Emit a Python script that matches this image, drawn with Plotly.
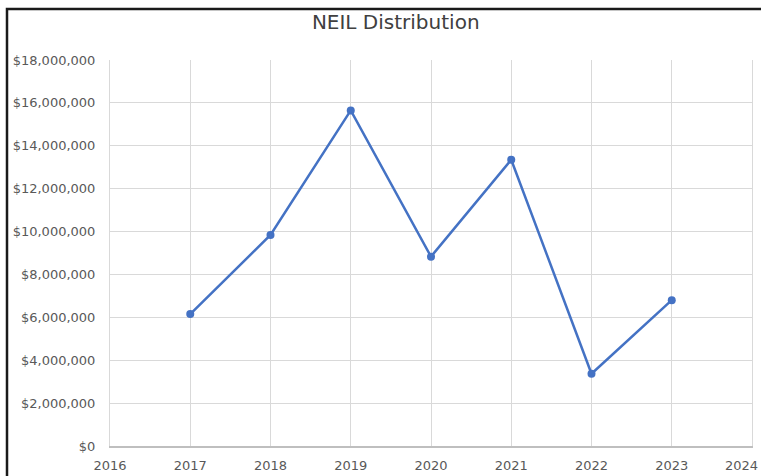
import plotly.graph_objects as go

years = [2017, 2018, 2019, 2020, 2021, 2022, 2023]
distribution = [6150000, 9840000, 15650000, 8830000, 13350000, 3370000, 6800000]
x_ticks = [2016, 2017, 2018, 2019, 2020, 2021, 2022, 2023, 2024]
y_ticks = [0, 2000000, 4000000, 6000000, 8000000, 10000000, 12000000, 14000000, 16000000, 18000000]
y_labels = ["$0", "$2,000,000", "$4,000,000", "$6,000,000", "$8,000,000", "$10,000,000",
            "$12,000,000", "$14,000,000", "$16,000,000", "$18,000,000"]

W, H = 761, 476
L, R, T, B = 110, 9, 60, 30

fig = go.Figure()
fig.add_trace(go.Scatter(
    x=years, y=distribution, mode="lines+markers",
    line=dict(color="#4472C4", width=2.5),
    marker=dict(color="#4472C4", size=8),
    showlegend=False, cliponaxis=False,
))

grid = "#d9d9d9"
txt = "#595959"
# last tick label is placed as an annotation so it stays inside the page
x_text = [str(v) for v in x_ticks[:-1]] + [""]
fig.update_layout(
    width=W, height=H,
    margin=dict(l=L, r=R, t=T, b=B),
    paper_bgcolor="white", plot_bgcolor="white",
    title=dict(text="NEIL Distribution", x=0.52, xanchor="center", y=1 - 22 / H, yanchor="middle",
               font=dict(family="DejaVu Sans", size=20, color="#404040")),
    font=dict(family="DejaVu Sans", size=13, color=txt),
    xaxis=dict(range=[2016, 2024], tickvals=x_ticks, ticktext=x_text,
               showgrid=True, gridcolor=grid, gridwidth=1, zeroline=False,
               showline=True, linecolor="#bfbfbf", linewidth=1.5,
               ticks="outside", ticklen=7, tickcolor="rgba(0,0,0,0)",
               ticklabeloverflow="allow", automargin=False,
               tickfont=dict(family="DejaVu Sans", size=13, color=txt)),
    yaxis=dict(range=[0, 18000000], tickvals=y_ticks, ticktext=y_labels,
               showgrid=True, gridcolor=grid, gridwidth=1, zeroline=False,
               showline=True, linecolor=grid, mirror=True,
               ticks="outside", ticklen=11, tickcolor="rgba(0,0,0,0)",
               ticklabeloverflow="allow", automargin=False,
               tickfont=dict(family="DejaVu Sans", size=13, color=txt)),
)

pw, ph = W - L - R, H - T - B
def px(x):
    return (x - L) / pw
def py(y):
    return (H - B - y) / ph

fig.add_annotation(text=str(x_ticks[-1]), xref="paper", yref="paper",
                   x=px(W - 1), y=py(H - B + 10), xanchor="right", yanchor="top",
                   showarrow=False, font=dict(family="DejaVu Sans", size=13, color=txt))

fig.add_shape(type="rect", xref="paper", yref="paper",
              x0=px(7), x1=px(W + 20), y0=py(H + 20), y1=py(9),
              line=dict(color="#1a1a1a", width=2.5), fillcolor="rgba(0,0,0,0)", layer="above")

fig.write_html("out.html")
